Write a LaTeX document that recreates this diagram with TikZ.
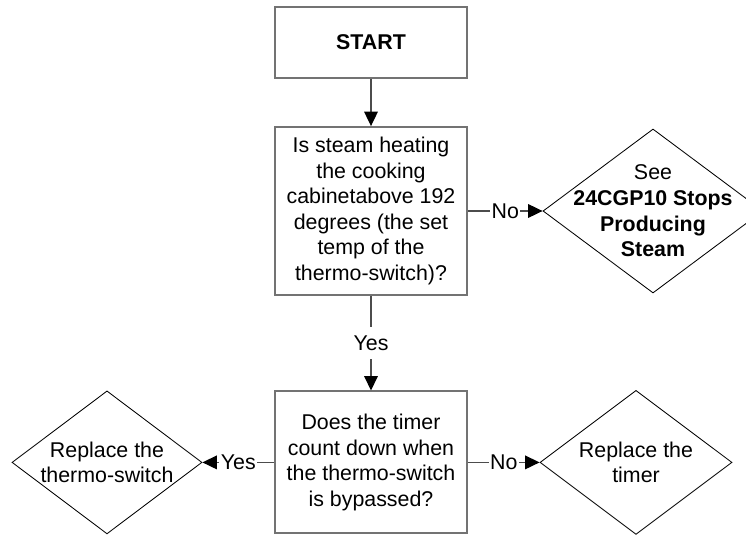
\documentclass[tikz,border=0pt]{standalone}
\usepackage{fontspec}
\setmainfont{Liberation Sans}
\usepackage{tikz}
\usetikzlibrary{arrows.meta,
                positioning,
                shapes.geometric}

\tikzset{
  every node/.style={font=\fontsize{15.2}{18.2}\selectfont},
  qbox/.style={draw=black!55, line width=1.3pt, minimum width=4.8cm, align=center, inner sep=0pt},
  ddiamond/.style={diamond, draw=black, line width=0.6pt, inner sep=0pt},
  dtext/.style={align=center},
  lbl/.style={fill=white, inner xsep=1pt, inner ysep=6pt},
  conn/.style={draw=black!70, line width=0.9pt,
    -{Triangle[length=0.36cm,width=0.34cm,color=black]}},
}

\begin{document}
\begin{tikzpicture}
\useasboundingbox (0,0) rectangle (18.65,-13.4);

% boxes
\node[qbox, minimum height=1.775cm] (start) at (9.275,-1.06) {\textbf{START}};
\node[qbox, minimum height=4.2cm] (steamq) at (9.275,-5.275)
  {Is steam heating\\the cooking\\cabinetabove 192\\degrees (the set\\temp of the\\thermo-switch)?};
\node[qbox, minimum height=3.55cm] (timerq) at (9.275,-11.56)
  {Does the timer\\count down when\\the thermo-switch\\is bypassed?};

% diamonds
\node[ddiamond, minimum width=5.5cm, minimum height=4.1cm] (seesteam) at (16.325,-5.275) {};
\node[dtext] (seetext) at (seesteam)
  {See\\\textbf{24CGP10 Stops}\\\textbf{Producing}\\\textbf{Steam}};
\node[ddiamond, minimum width=4.75cm, minimum height=3.575cm] (thermo) at (2.675,-11.56) {};
\node[dtext] (thermotext) at (thermo) {Replace the\\thermo-switch};
\node[ddiamond, minimum width=4.8cm, minimum height=3.6cm] (timer) at (15.9,-11.56) {};
\node[dtext] (timertext) at (timer) {Replace the\\timer};

% connectors
\draw[conn] (start) -- (steamq);
\draw[conn] (steamq) -- node[lbl] (no1) {No} (seesteam);
\draw[conn] (steamq) -- node[lbl] (yes1) {Yes} (timerq);
\draw[conn] (timerq) -- node[lbl] (yes2) {Yes} (thermo);
\draw[conn] (timerq) -- node[lbl] (no2) {No} (timer);
\end{tikzpicture}
\end{document}
